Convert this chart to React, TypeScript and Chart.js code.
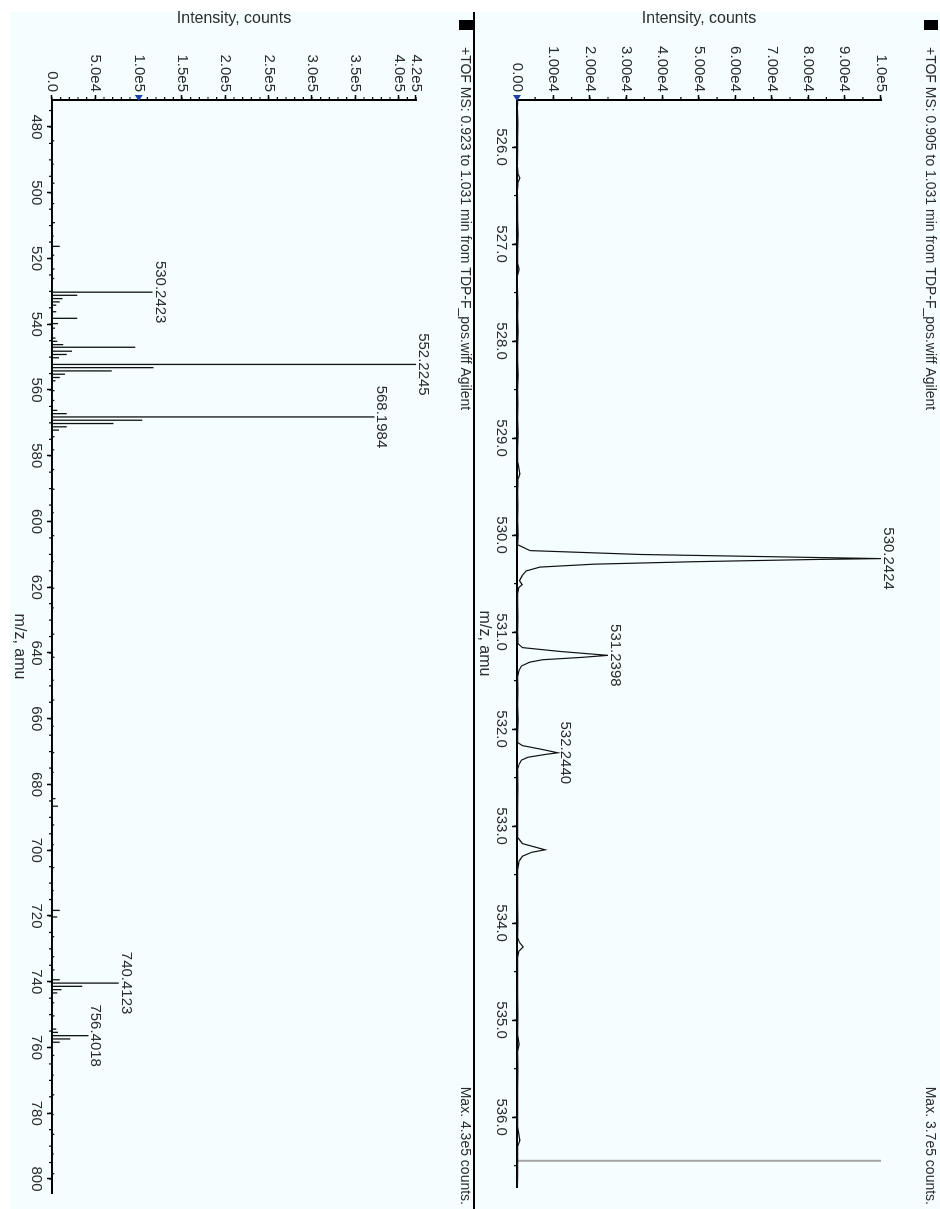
import React, { useEffect, useRef } from "react";
import { Chart, registerables } from "chart.js";

Chart.register(...registerables);

const FONT = "'Liberation Sans', Arial, sans-serif";
const TEXT = "#2b2b2b";
const BG = "#f4fefe";

// ---------- Top pane: +TOF MS 0.905 to 1.031 min (profile, zoomed) ----------
const TOP_TITLE = "+TOF MS: 0.905 to 1.031 min from TDP-F_pos.wiff Agilent";
const TOP_MAX = "Max. 3.7e5 counts.";
const TOP_MZ = [
  525.52, 525.6, 525.75, 525.9, 526.05, 526.2, 526.28, 526.32, 526.36, 526.45,
  526.6, 526.75, 526.9, 527.05, 527.2, 527.26, 527.32, 527.45, 527.6, 527.75,
  527.9, 528.05, 528.2, 528.35, 528.5, 528.65, 528.8, 528.95, 529.1, 529.25,
  529.37, 529.42, 529.55, 529.7, 529.85, 530.0, 530.1, 530.16, 530.2, 530.2424,
  530.252, 530.275, 530.3, 530.33, 530.37, 530.42, 530.47, 530.51, 530.54, 530.6,
  530.7, 530.85, 531.0, 531.12, 531.16, 531.2, 531.2398, 531.26, 531.285, 531.31,
  531.35, 531.4, 531.46, 531.6, 531.75, 531.9, 532.05, 532.14, 532.17, 532.21,
  532.244, 532.26, 532.29, 532.32, 532.36, 532.42, 532.6, 532.8, 533.0, 533.12,
  533.18, 533.244, 533.27, 533.31, 533.36, 533.45, 533.6, 533.8, 534.0, 534.15,
  534.2, 534.245, 534.29, 534.35, 534.55, 534.75, 534.95, 535.15, 535.25, 535.32,
  535.5, 535.7, 535.9, 536.1, 536.24, 536.3, 536.45, 536.6, 536.72,
];
const TOP_INT = [
  200, 100, 250, 150, 200, 100, 300, 800, 300, 100,
  200, 150, 300, 150, 200, 600, 200, 100, 250, 150,
  300, 200, 150, 350, 150, 250, 150, 300, 200, 250,
  800, 300, 150, 250, 150, 300, 200, 3600, 34000, 100000,
  81000, 48000, 21000, 6300, 2500, 1400, 700, 1400, 500, 200,
  150, 250, 150, 300, 1500, 12000, 25000, 18000, 7000, 3500,
  1200, 500, 150, 250, 150, 300, 200, 250, 1500, 7000,
  11200, 8000, 3000, 1200, 600, 150, 250, 150, 200, 250,
  1500, 7700, 4000, 1500, 600, 150, 200, 150, 250, 200,
  700, 1700, 500, 150, 200, 150, 250, 150, 600, 150,
  250, 150, 200, 150, 800, 200, 150, 200, 100,
];
const TOP_CURSOR_MZ = [536.45];
const TOP_X_TICKS = [526, 527, 528, 529, 530, 531, 532, 533, 534, 535, 536];
const TOP_X_LABELS = ["526.0", "527.0", "528.0", "529.0", "530.0", "531.0", "532.0", "533.0", "534.0", "535.0", "536.0"];
const TOP_Y_TICKS = [0, 10000, 20000, 30000, 40000, 50000, 60000, 70000, 80000, 90000, 100000];
const TOP_Y_LABELS = ["0.00", "1.00e4", "2.00e4", "3.00e4", "4.00e4", "5.00e4", "6.00e4", "7.00e4", "8.00e4", "9.00e4", "1.0e5"];
const TOP_PEAK_MZ = [530.2424, 531.2398, 532.244];
const TOP_PEAK_INT = [100000, 25000, 11200];
const TOP_PEAK_TEXT = ["530.2424", "531.2398", "532.2440"];

// ---------- Bottom pane: +TOF MS 0.923 to 1.031 min (full range) ----------
const BOT_TITLE = "+TOF MS: 0.923 to 1.031 min from TDP-F_pos.wiff Agilent";
const BOT_MAX = "Max. 4.3e5 counts.";
const BOT_MZ = [
  484.2, 491.3, 497.1, 503.3, 509.1, 513.2, 516.3, 519.0, 523.2, 526.1,
  530.2423, 531.2, 532.2, 533.2, 534.2, 536.2, 538.2, 539.8, 541.2, 544.2,
  545.2, 546.2, 547.0, 548.2, 549.2, 550.2, 552.2245, 553.2, 554.2, 555.2,
  556.2, 557.2, 560.2, 563.2, 566.2, 567.2, 568.1984, 569.2, 570.2, 571.2,
  572.2, 574.2, 578.2, 584.2, 590.2, 597.3, 604.3, 612.2, 620.3, 626.3,
  634.3, 641.3, 648.3, 654.3, 662.3, 670.3, 676.3, 684.3, 686.6, 692.3,
  698.3, 705.3, 712.3, 718.3, 720.3, 726.3, 732.4, 736.4, 739.4, 740.4123,
  741.4, 742.4, 743.4, 746.4, 750.4, 754.4, 755.4, 756.4018, 757.4, 758.4,
  762.4, 768.4, 774.4, 780.4, 786.4, 792.4, 798.4,
];
const BOT_INT = [
  2500, 2000, 3000, 2500, 3500, 2000, 9000, 2500, 3000, 2500,
  116000, 29000, 12000, 9000, 5000, 5000, 29000, 7000, 3500, 4000,
  6000, 13000, 96000, 23000, 17000, 8000, 420000, 117000, 69000, 15000,
  9000, 4000, 3000, 2500, 6000, 17000, 372000, 104000, 71000, 17000,
  8000, 3000, 2500, 2500, 3000, 2000, 2500, 2000, 2500, 2000,
  2500, 3000, 2000, 2500, 2000, 2500, 2000, 4000, 7000, 2500,
  2000, 2500, 2000, 9000, 6000, 2500, 2500, 3000, 9000, 77000,
  35000, 11000, 6000, 2500, 3000, 5000, 7000, 42000, 21000, 9000,
  2500, 2000, 2500, 2000, 2500, 2000, 2500,
];
const BOT_X_TICKS = [480, 500, 520, 540, 560, 580, 600, 620, 640, 660, 680, 700, 720, 740, 760, 780, 800];
const BOT_X_LABELS = BOT_X_TICKS.map((v) => String(v));
const BOT_Y_TICKS = [0, 50000, 100000, 150000, 200000, 250000, 300000, 350000, 400000, 420000];
const BOT_Y_LABELS = ["0.0", "5.0e4", "1.0e5", "1.5e5", "2.0e5", "2.5e5", "3.0e5", "3.5e5", "4.0e5", "4.2e5"];
const BOT_PEAK_MZ = [530.2423, 552.2245, 568.1984, 740.4123, 756.4018];
const BOT_PEAK_INT = [116000, 420000, 372000, 77000, 42000];
const BOT_PEAK_TEXT = ["530.2423", "552.2245", "568.1984", "740.4123", "756.4018"];

const W = 1209;
const PANE_H = 465;

type Pane = {
  title: string;
  maxText: string;
  datasets: any[];
  xMin: number;
  xMax: number;
  xTicks: number[];
  xLabels: string[];
  xMinor: number;
  yMax: number;
  yTicks: number[];
  yLabels: string[];
  yMinor: number;
  peakMz: number[];
  peakInt: number[];
  peakText: string[];
  marker: number;
  topLine: boolean;
  right: number;
};

const panes: Pane[] = [
  {
    title: TOP_TITLE,
    maxText: TOP_MAX,
    datasets: [
      {
        data: TOP_MZ.map((m, i) => ({ x: m, y: TOP_INT[i] })),
        borderColor: "#111",
        borderWidth: 1.2,
        pointRadius: 0,
        tension: 0,
      },
      {
        data: TOP_CURSOR_MZ.flatMap((m) => [{ x: m, y: 0 }, { x: m, y: 100000 }]),
        borderColor: "#a6a6a6",
        borderWidth: 2,
        pointRadius: 0,
      },
    ],
    xMin: 525.515,
    xMax: 536.72,
    xTicks: TOP_X_TICKS,
    xLabels: TOP_X_LABELS,
    xMinor: 0.5,
    yMax: 100000,
    yTicks: TOP_Y_TICKS,
    yLabels: TOP_Y_LABELS,
    yMinor: 5000,
    peakMz: TOP_PEAK_MZ,
    peakInt: TOP_PEAK_INT,
    peakText: TOP_PEAK_TEXT,
    marker: 0,
    topLine: false,
    right: 1187,
  },
  {
    title: BOT_TITLE,
    maxText: BOT_MAX,
    datasets: [
      {
        data: BOT_MZ.flatMap((m, i) => [
          { x: m, y: 0 },
          { x: m, y: BOT_INT[i] },
          { x: m, y: 0 },
        ]),
        borderColor: "#111",
        borderWidth: 1.3,
        pointRadius: 0,
        tension: 0,
      },
    ],
    xMin: 471.79,
    xMax: 804.26,
    xTicks: BOT_X_TICKS,
    xLabels: BOT_X_LABELS,
    xMinor: 5,
    yMax: 420000,
    yTicks: BOT_Y_TICKS,
    yLabels: BOT_Y_LABELS,
    yMinor: 10000,
    peakMz: BOT_PEAK_MZ,
    peakInt: BOT_PEAK_INT,
    peakText: BOT_PEAK_TEXT,
    marker: 100000,
    topLine: true,
    right: 1193,
  },
];

function makeDecor(p: Pane) {
  return {
    id: "decor",
    beforeDraw(chart: any) {
      const ctx = chart.ctx;
      ctx.save();
      ctx.fillStyle = BG;
      ctx.fillRect(12, 0, chart.width - 12, chart.height);
      ctx.restore();
    },
    afterDraw(chart: any) {
      const ctx = chart.ctx;
      const xs = chart.scales.x;
      const ys = chart.scales.y;
      const ca = chart.chartArea;
      ctx.save();
      // minor ticks
      ctx.strokeStyle = "#000";
      ctx.lineWidth = 1.2;
      ctx.beginPath();
      for (let i = Math.ceil(p.xMin / p.xMinor); i * p.xMinor <= p.xMax + 1e-9; i++) {
        const px = xs.getPixelForValue(i * p.xMinor);
        ctx.moveTo(px, ca.bottom);
        ctx.lineTo(px, ca.bottom + 3);
      }
      for (let i = 0; i * p.yMinor <= p.yMax + 1e-9; i++) {
        const py = ys.getPixelForValue(i * p.yMinor);
        ctx.moveTo(ca.left, py);
        ctx.lineTo(ca.left - 3, py);
      }
      ctx.stroke();
      // blue threshold marker
      const my = ys.getPixelForValue(p.marker);
      ctx.fillStyle = "#1f3fa8";
      ctx.beginPath();
      ctx.moveTo(ca.left - 5, my - 4);
      ctx.lineTo(ca.left - 5, my + 4);
      ctx.lineTo(ca.left + 1, my);
      ctx.closePath();
      ctx.fill();
      // peak labels
      ctx.fillStyle = TEXT;
      ctx.font = `15px ${FONT}`;
      ctx.textAlign = "center";
      ctx.textBaseline = "alphabetic";
      p.peakMz.forEach((m, i) => {
        const px = xs.getPixelForValue(m);
        const py = ys.getPixelForValue(p.peakInt[i]);
        ctx.fillText(p.peakText[i], px, py - 3);
      });
      // header
      ctx.fillStyle = "#000";
      ctx.fillRect(20, 2, 10, 14);
      if (p.topLine) ctx.fillRect(12, 0, chart.width - 12, 2);
      ctx.fillStyle = TEXT;
      ctx.font = `14px ${FONT}`;
      ctx.textBaseline = "middle";
      ctx.textAlign = "left";
      ctx.fillText(p.title, 47, 10);
      ctx.textAlign = "right";
      ctx.fillText(p.maxText, 1205, 10);
      ctx.restore();
    },
  };
}

function PaneChart({ p }: { p: Pane }) {
  const ref = useRef<HTMLCanvasElement | null>(null);
  useEffect(() => {
    if (!ref.current) return;
    const chart = new Chart(ref.current, {
      type: "line",
      data: { datasets: p.datasets },
      options: {
        animation: false,
        responsive: false,
        maintainAspectRatio: false,
        layout: { padding: { top: 59, left: 0, right: W - p.right, bottom: 0 } },
        plugins: { legend: { display: false }, tooltip: { enabled: false } },
        scales: {
          x: {
            type: "linear",
            bounds: "data",
            min: p.xMin,
            max: p.xMax,
            afterBuildTicks: (s: any) => {
              s.ticks = p.xTicks.map((v) => ({ value: v }));
            },
            afterFit: (s: any) => {
              s.height = PANE_H - 423;
            },
            ticks: {
              autoSkip: false,
              maxRotation: 0,
              minRotation: 0,
              padding: 2,
              color: TEXT,
              font: { size: 15, family: FONT },
              callback: (v: any) => {
                const i = p.xTicks.indexOf(Number(v));
                return i >= 0 ? p.xLabels[i] : "";
              },
            },
            grid: {
              drawOnChartArea: false,
              drawTicks: true,
              tickLength: 5,
              tickColor: "#000",
              tickWidth: 1.5,
            },
            border: { display: true, color: "#000", width: 2 },
            title: {
              display: true,
              text: "m/z, amu",
              color: TEXT,
              font: { size: 16, family: FONT },
              padding: { top: 0, bottom: 0 },
            },
          },
          y: {
            type: "linear",
            bounds: "data",
            min: 0,
            max: p.yMax,
            afterBuildTicks: (s: any) => {
              s.ticks = p.yTicks.map((v) => ({ value: v }));
            },
            afterFit: (s: any) => {
              s.width = 100;
            },
            ticks: {
              autoSkip: false,
              padding: 3,
              color: TEXT,
              font: { size: 15, family: FONT },
              callback: (v: any) => {
                const i = p.yTicks.indexOf(Number(v));
                return i >= 0 ? p.yLabels[i] : "";
              },
            },
            grid: {
              drawOnChartArea: false,
              drawTicks: true,
              tickLength: 5,
              tickColor: "#000",
              tickWidth: 1.5,
            },
            border: { display: true, color: "#000", width: 2 },
            title: {
              display: true,
              text: "Intensity, counts",
              color: TEXT,
              font: { size: 16, family: FONT },
              padding: { top: 9, bottom: 0 },
            },
          },
        },
      } as any,
      plugins: [makeDecor(p)],
    });
    return () => chart.destroy();
  }, [p]);
  return (
    <canvas
      ref={ref}
      width={W}
      height={PANE_H}
      style={{ display: "block", width: W, height: PANE_H }}
    />
  );
}

export default function App() {
  useEffect(() => {
    document.body.style.overflow = "hidden";
    document.documentElement.style.overflow = "hidden";
  }, []);
  return (
    <div
      style={{
        position: "absolute",
        left: 0,
        top: 0,
        width: W,
        height: 940,
        background: "#fff",
        transformOrigin: "0 0",
        transform: "translate(940px, 0px) rotate(90deg)",
      }}
    >
      {panes.map((p, i) => (
        <PaneChart key={i} p={p} />
      ))}
    </div>
  );
}
